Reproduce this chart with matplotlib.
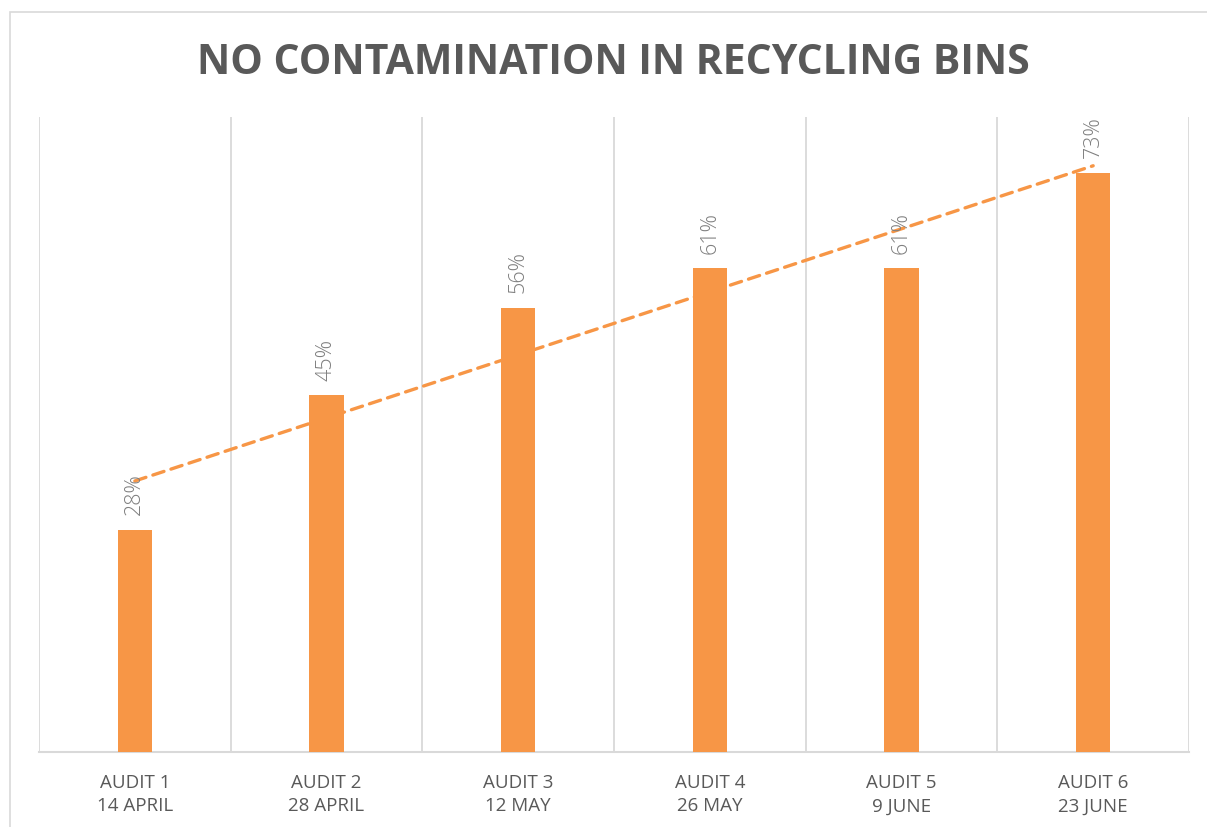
import matplotlib
matplotlib.use("Agg")
import matplotlib.pyplot as plt
from matplotlib.patches import Rectangle
import numpy as np

categories = ["AUDIT 1\n14 APRIL", "AUDIT 2\n28 APRIL", "AUDIT 3\n12 MAY",
              "AUDIT 4\n26 MAY", "AUDIT 5\n9 JUNE", "AUDIT 6\n23 JUNE"]
values = [28, 45, 56, 61, 61, 73]
labels = ["28%", "45%", "56%", "61%", "61%", "73%"]
title = "NO CONTAMINATION IN RECYCLING BINS"

ORANGE = "#F79646"
GRID = "#D9D9D9"
TEXT = "#595959"

fig = plt.figure(figsize=(12.07, 8.28), dpi=100)
fig.patch.set_facecolor("white")

# outer chart border
fig.add_artist(Rectangle((10 / 1207, -0.05), 1.2, (828 - 13) / 828 + 0.05,
                         transform=fig.transFigure, fill=False,
                         edgecolor=GRID, linewidth=1.2))

ax = fig.add_axes([39 / 1207, 75 / 828, (1189 - 39) / 1207, (753 - 118) / 828])
x = np.arange(1, len(values) + 1)
ax.bar(x, values, width=0.18, color=ORANGE, zorder=3)

# linear trendline
coef = np.polyfit(x, values, 1)
ax.plot(x[[0, -1]], np.polyval(coef, x[[0, -1]]), color=ORANGE, lw=2.4,
        linestyle=(0, (3.5, 2.2)), dash_capstyle="round", zorder=4)

for xi, v, lab in zip(x, values, labels):
    ax.annotate(lab, (xi, v), xytext=(0, 11), textcoords="offset points",
                rotation=90, ha="center", va="bottom", fontsize=15.5,
                color="#7F7F7F", family="Open Sans", fontweight="light",
                zorder=5)

ax.set_xlim(0.5, len(values) + 0.5)
ax.set_ylim(0, 80)
ax.set_yticks([])
ax.set_xticks(x)
ax.set_xticklabels(categories, fontsize=13.5, color=TEXT, family="Open Sans",
                   linespacing=1.4)
ax.tick_params(axis="x", length=0, pad=15)
for b in np.arange(0.5, len(values) + 1, 1):
    ax.axvline(b, color=GRID, lw=1.3, zorder=1)
for s in ["top", "right", "left"]:
    ax.spines[s].set_visible(False)
ax.spines["bottom"].set_color(GRID)
ax.spines["bottom"].set_linewidth(1.5)

fig.text(0.508, 1 - 64 / 828, title, ha="center", va="center", fontsize=29.5,
         fontweight="bold", color=TEXT, family="Open Sans")

fig.savefig("out.png", dpi=100)
